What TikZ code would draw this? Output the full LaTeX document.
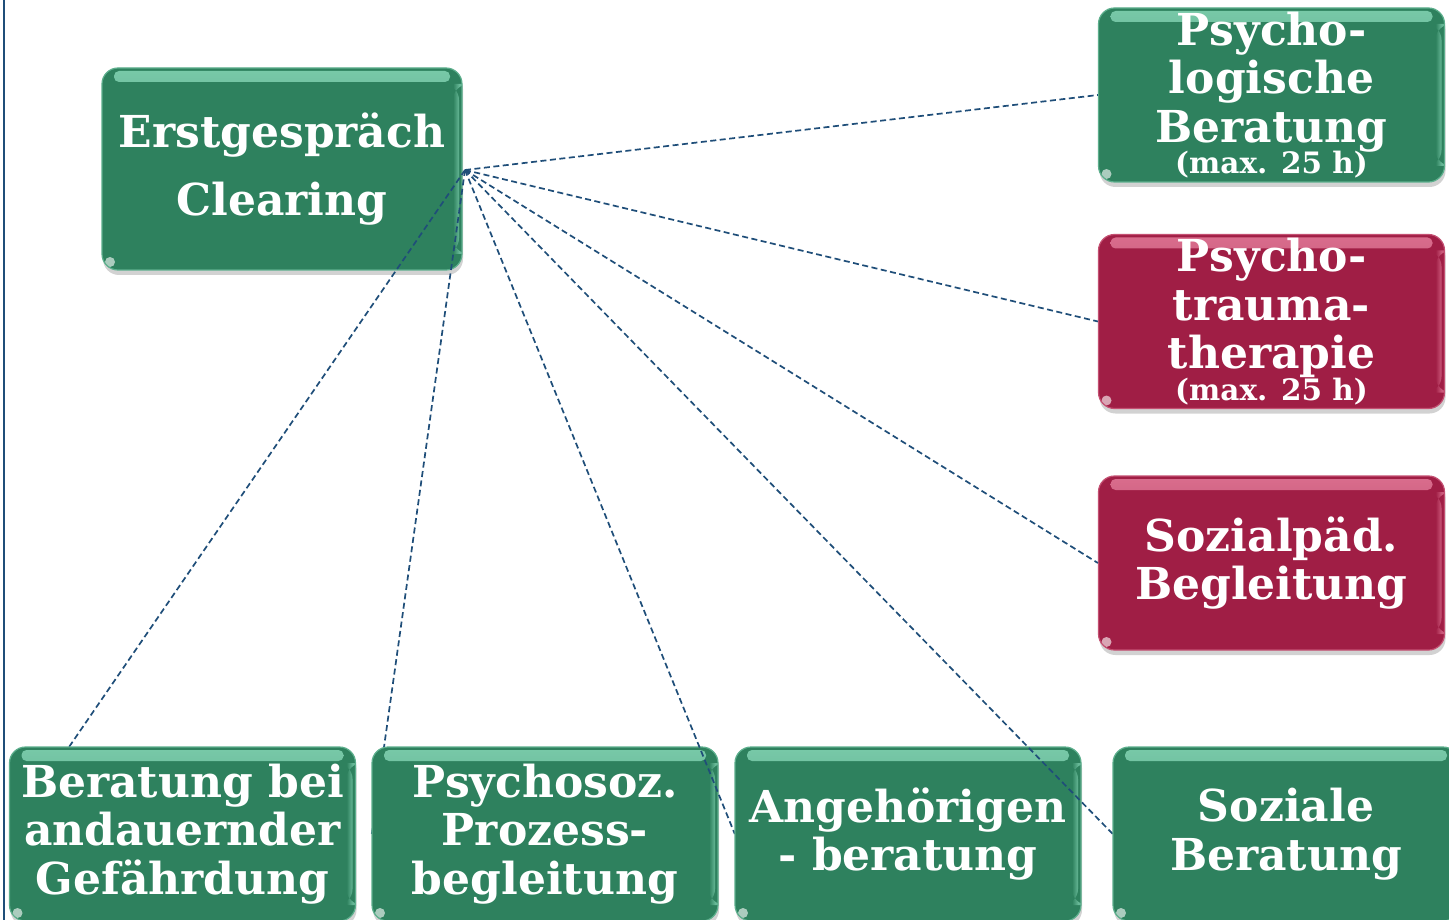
\documentclass[tikz,border=0pt]{standalone}
\usepackage{fontspec}
\newfontfamily\gfont{DejaVu Serif}
\usetikzlibrary{shadows}
\definecolor{boxgreen}{RGB}{46,129,94}
\definecolor{boxred}{RGB}{160,30,69}
\definecolor{linkblue}{RGB}{31,78,121}
\definecolor{hlgreen}{RGB}{140,220,188}
\definecolor{hlred}{RGB}{232,130,160}
\tikzset{
  frame/.style={minimum width=346pt, minimum height=174pt, inner sep=0pt},
  card/.style={frame, rounded corners=16pt,
    align=center, text=white,
    font=\gfont\bfseries\fontsize{44}{48.5}\selectfont,
    drop shadow={shadow xshift=1pt, shadow yshift=-5pt, opacity=0.35}},
  gloss/.style 2 args={path picture={
      \shade[top color=#1, bottom color=#2, opacity=0.8, rounded corners=5pt]
        ([xshift=12pt,yshift=-3pt]path picture bounding box.north west) rectangle
        ([xshift=-12pt,yshift=-14pt]path picture bounding box.north east);
      \shade[left color=#2, right color=#1, opacity=0.6]
        ([xshift=-9pt,yshift=-16pt]path picture bounding box.north east) rectangle
        ([xshift=-3pt,yshift=16pt]path picture bounding box.south east);
      \fill[white, opacity=0.6]
        ([xshift=8pt,yshift=8pt]path picture bounding box.south west) circle (5pt);
    }},
  greencard/.style={card, fill=boxgreen, draw=hlgreen!50!boxgreen, line width=1.2pt, gloss={hlgreen}{boxgreen}},
  redcard/.style={card, fill=boxred, draw=hlred!50!boxred, line width=1.2pt, gloss={hlred}{boxred}},
  link/.style={draw=linkblue, line width=1.7pt, dash pattern=on 6pt off 3.5pt}
}
\newcommand{\smallline}[1]{{\fontsize{29.5}{31}\selectfont #1}}
\begin{document}
\begin{tikzpicture}[x=1pt, y=-1pt]
\useasboundingbox (0,0) rectangle (1449,920);
\clip (0,0) rectangle (1449,920);
\fill[white] (0,0) rectangle (1449,920);
\draw[linkblue, line width=2pt] (4,0) -- (4,920);

\node[greencard, minimum width=360pt, minimum height=202pt] (erst) at (282,169)
  {Erstgespräch\\[20pt]Clearing};

\node[greencard] (psylog) at (1271.5,95)
  {Psycho-\\logische\\Beratung\\[-17pt]\smallline{(max. 25 h)}};
\node[redcard] (trauma) at (1271.5,321.5)
  {Psycho-\\trauma-\\therapie\\[-17pt]\smallline{(max. 25 h)}};
\node[redcard] (sozpaed) at (1271.5,563)
  {Sozialpäd.\\Begleitung};

\coordinate (hub) at (465,170);
\draw[link] (hub) -- (psylog.west);
\draw[link] (hub) -- (trauma.west);
\draw[link] (hub) -- (sozpaed.west);

% frames of the bottom boxes, so that the links can be drawn before the boxes
\node[frame] (gef)  at (182.5,834) {};
\node[frame] (proz) at (545,834) {};
\node[frame] (ang)  at (908,834) {};
\node[frame] (soz)  at (1286,834) {};

\draw[link] (hub) -- (gef.west);
\node[greencard] (gefbox) at (gef.center)
  {Beratung bei\\andauernder\\Gefährdung};
\draw[link] (hub) -- (proz.west);
\node[greencard] (prozbox) at (proz.center)
  {Psychosoz.\\Prozess-\\begleitung};
\draw[link] (hub) -- (ang.west);
\node[greencard] (angbox) at (ang.center)
  {Angehörigen\\- beratung};
\draw[link] (hub) -- (soz.west);
\node[greencard] (sozbox) at (soz.center)
  {Soziale\\Beratung};
\end{tikzpicture}
\end{document}
